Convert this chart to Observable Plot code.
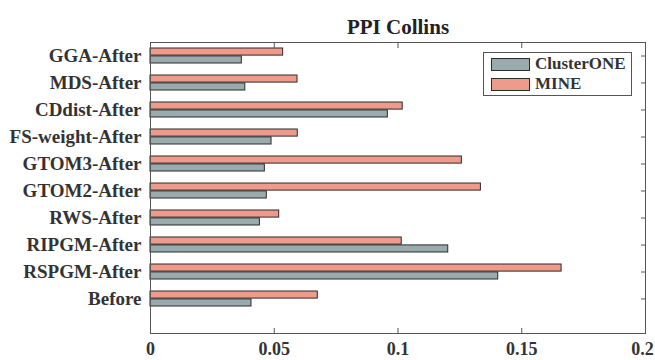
<!DOCTYPE html>
<html>
<head>
<meta charset="utf-8">
<script src="https://cdn.jsdelivr.net/npm/d3@7"></script>
<script src="https://cdn.jsdelivr.net/npm/@observablehq/plot@0.6"></script>
<style>
  body { margin: 0; background: #fff; }
  #wrap { position: relative; width: 655px; height: 360px; font-family: "Liberation Serif", "Times New Roman", serif; }
  #legend { position: absolute; left: 483px; top: 52px; width: 147px; height: 42px; border: 1px solid #555; background: #fff; }
  .row { position: absolute; left: 7px; display: flex; align-items: center; }
  .sw { width: 39px; height: 13px; border: 1px solid #2b2b2b; box-sizing: border-box; }
  .lab { margin-left: 5px; font-size: 17px; font-weight: bold; color: #333; line-height: 14px; }
</style>
</head>
<body>
<div id="wrap"></div>
<script>
const title = "PPI Collins";
const categories = ["GGA-After", "MDS-After", "CDdist-After", "FS-weight-After", "GTOM3-After",
  "GTOM2-After", "RWS-After", "RIPGM-After", "RSPGM-After", "Before"];
const seriesNames = ["ClusterONE", "MINE"];
const clusterONE = [0.0369, 0.0383, 0.0959, 0.0489, 0.0462, 0.0470, 0.0442, 0.1203, 0.1405, 0.0408];
const mine = [0.0536, 0.0594, 0.1019, 0.0595, 0.1258, 0.1335, 0.0520, 0.1015, 0.1661, 0.0676];
const xTicks = [0, 0.05, 0.1, 0.15, 0.2];
const seriesColors = ["#9aabad", "#ee9b8b"];

const rowsC = categories.map((c, i) => ({category: c, series: seriesNames[0], value: clusterONE[i]}));
const rowsM = categories.map((c, i) => ({category: c, series: seriesNames[1], value: mine[i]}));

const textColor = "#333";
const noText = () => "";
const xLabelOpts = {anchor: "bottom", tickSize: 0, tickPadding: 9, fontSize: 18, tickFormat: d => String(d), label: null, fontWeight: "bold", fill: textColor};
const chart = Plot.plot({
  width: 655,
  height: 360,
  marginLeft: 150,
  marginRight: 10,
  marginTop: 42,
  marginBottom: 27,
  style: {fontFamily: "Liberation Serif, Times New Roman, serif", fontSize: "19px", color: textColor, background: "#fff"},
  x: {domain: [0, 0.2], axis: null},
  y: {domain: categories, paddingInner: 0, paddingOuter: 0.245, align: 0, axis: null},
  color: {domain: seriesNames, range: seriesColors},
  marks: [
    Plot.barX(rowsM, {x: "value", y: "category", fill: "series", stroke: "#2b2b2b", strokeWidth: 1, insetTop: 6, insetBottom: 13.9}),
    Plot.barX(rowsC, {x: "value", y: "category", fill: "series", stroke: "#2b2b2b", strokeWidth: 1, insetTop: 13.9, insetBottom: 6}),
    Plot.frame({stroke: "#555"}),
    Plot.axisX({anchor: "bottom", ticks: xTicks, tickSize: -5, stroke: "#555", tickFormat: noText, label: null}),
    Plot.axisX({anchor: "top", ticks: xTicks, tickSize: -5, stroke: "#555", tickFormat: noText, label: null}),
    Plot.axisX({...xLabelOpts, ticks: xTicks.slice(0, -1)}),
    Plot.axisX({...xLabelOpts, ticks: xTicks.slice(-1), dx: -3}),
    Plot.axisY({anchor: "right", tickSize: -5, stroke: "#555", tickFormat: noText, label: null}),
    Plot.axisY({anchor: "left", tickSize: 0, tickPadding: 9, label: null, fontWeight: "bold", fill: textColor}),
    Plot.text([title], {frameAnchor: "top", lineAnchor: "bottom", dy: -9, fontSize: 21, fontWeight: "bold", fill: "#222"})
  ]
});
const wrap = document.getElementById("wrap");
wrap.appendChild(chart);

const legend = document.createElement("div");
legend.id = "legend";
seriesNames.forEach((name, i) => {
  const row = document.createElement("div");
  row.className = "row";
  row.style.top = (4 + i * 20) + "px";
  const sw = document.createElement("div");
  sw.className = "sw";
  sw.style.background = seriesColors[i];
  const lab = document.createElement("span");
  lab.className = "lab";
  lab.textContent = name;
  row.appendChild(sw);
  row.appendChild(lab);
  legend.appendChild(row);
});
wrap.appendChild(legend);
</script>
</body>
</html>
